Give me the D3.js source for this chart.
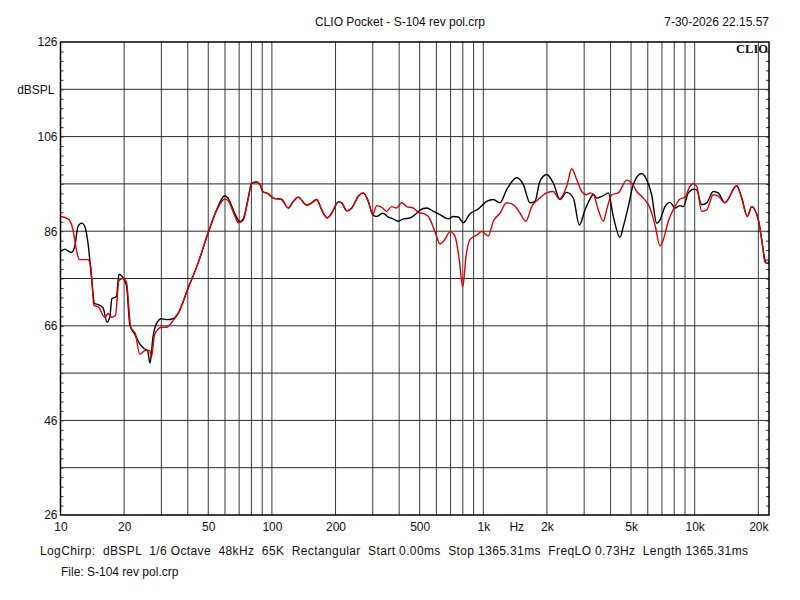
<!DOCTYPE html>
<html>
<head>
<meta charset="utf-8">
<script src="https://cdn.jsdelivr.net/npm/d3@7"></script>
<style>
  html, body { margin: 0; padding: 0; background: #fff; }
  svg text { font-family: "Liberation Sans", Arial, sans-serif; fill: #111; }
</style>
</head>
<body>
<svg id="chart" width="800" height="600"></svg>
<script>
// ---- data ----
const titleText = "CLIO Pocket - S-104 rev pol.crp";
const dateText = "7-30-2026 22.15.57";
const infoText = "LogChirp:  dBSPL  1/6 Octave  48kHz  65K  Rectangular  Start 0.00ms  Stop 1365.31ms  FreqLO 0.73Hz  Length 1365.31ms";
const fileText = "File: S-104 rev pol.crp";

const xTickValues = [10, 20, 50, 100, 200, 500, 1000, 2000, 5000, 10000, 20000];
const xTickLabels = ["10", "20", "50", "100", "200", "500", "1k", "2k", "5k", "10k", "20k"];
const xGridValues = [20,30,40,50,60,70,80,90,100,200,300,400,500,600,700,800,900,1000,2000,3000,4000,5000,6000,7000,8000,9000,10000,20000];
const yTickValues = [126, 106, 86, 66, 46, 26];
const yGridValues = [36, 46, 56, 66, 76, 86, 96, 106, 116];

const blackFreq = [10,10.46,11.25,11.67,12.1,12.6,13.0,13.5,14.0,14.5,15.1,15.9,16.6,17.1,17.5,18.4,18.9,19.5,20.5,21.3,22.4,23.7,25.0,25.8,26.5,27.4,28.4,30.0,31.7,34.1,36.0,40.1,44.7,49.9,55.6,59.8,62.0,66.7,70.6,73.2,77.3,80.2,84.7,87.8,90.5,96.2,101.5,111.2,119.6,126.3,133.3,146.1,154.2,162.8,172.0,182.9,191.8,206.2,213.8,225.9,238.6,256.4,270.6,285.8,299.9,313.2,334.2,355.4,375,396,418.4,449.8,475.3,500,539.9,580.5,624,683,721,761.5,804,865,947,1037,1115,1199,1290,1439,1546,1663,1756,1854,1995,2144,2306,2480,2667,2847,3027,3197,3315,3440,3698,3902,4121,4433,4596,4853,5125,5610,5925,6258,6607,6855,7235,7640,8068,8520,8830,9328,9924,10220,10790,11400,12240,12930,13900,15800,16690,17740,18600,20010,20750,21500,21910,22465];
const blackDb = [81.7,82.2,81.5,82.7,87.0,87.7,87.1,83.4,76.4,70.7,70.5,69.8,66.8,67.8,71.7,72.2,76.9,76.5,74.6,66.1,64.3,62.2,61.1,60.8,58.1,63.7,66.4,67.5,67.3,67.5,68.6,73.9,79.2,85.6,91.2,93.5,93.0,89.8,88.0,88.6,93.0,96.1,96.4,95.9,94.4,93.9,93.0,92.7,90.9,92.3,93.2,91.5,92.0,92.7,90.5,88.8,89.8,92.2,92.0,90.3,90.9,93.4,94.1,92.3,89.5,89.1,89.8,89.0,88.6,88.1,88.6,88.8,89.5,90.4,90.9,90.2,89.5,88.6,89.1,89.0,87.8,89.7,90.7,92.3,92.7,92.0,94.8,97.3,95.9,92.0,92.3,96.6,98.0,96.2,92.7,94.2,93.0,87.3,90.5,92.8,93.8,93.0,93.5,94.1,89.1,84.7,87.0,91.2,95.9,98.2,96.9,93.7,87.7,88.4,91.2,92.1,90.9,91.4,91.2,94.1,94.9,94.7,91.6,92.0,94.4,94.1,92.0,95.6,93.0,89.1,91.2,88.4,84.2,79.9,79.2,79.3];

const redFreq = [10,10.85,11.46,11.9,12.3,13.5,13.9,14.4,15.1,16.2,16.8,17.4,18.2,18.9,19.7,20.5,21.5,22.6,23.7,25.2,26.4,26.9,27.9,30.0,31.7,34.1,36.0,40.1,44.7,49.9,55.6,59.8,62.0,66.7,69.3,73.2,77.3,80.2,84.7,87.8,90.5,96.2,101.5,111.2,119.6,126.3,133.3,146.1,154.2,162.8,172.0,182.9,191.8,206.2,213.8,225.9,238.6,256.4,270.6,285.8,299.9,313.2,334.2,349,368.7,389.3,411,434.3,466.9,492.6,529.5,549.6,591,624,659,696,735,770,799,828,865,930,983,1056,1115,1199,1290,1387,1492,1592,1694,1820,1995,2144,2289,2480,2620,2767,2921,3083,3197,3315,3500,3698,3832,4049,4353,4769,5035,5318,5719,6146,6492,6855,7105,7500,8068,8520,8995,9500,9850,10220,10790,11400,12240,12930,13900,15800,16690,17740,18600,20010,20750,21500,21910,22465];
const redDb = [89.1,88.6,86.3,82.0,80.0,80.0,78.5,70.3,70.0,67.8,68.6,67.8,68.2,75.6,76.0,75.3,65.7,64.3,60.0,60.8,60.8,59.3,64.2,65.7,65.7,67.1,68.6,73.9,79.2,85.6,91.0,92.8,92.5,89.3,87.8,88.3,93.0,96.1,96.4,95.9,94.4,93.9,93.0,92.7,90.9,92.3,93.2,91.5,92.0,92.7,90.5,88.8,89.8,92.2,92.0,90.3,90.9,93.4,94.1,92.3,89.5,91.4,90.9,90.2,91.2,90.9,92.0,91.2,90.9,90.0,89.6,89.1,85.9,83.3,84.3,85.9,84.9,79.9,74.2,80.6,84.2,85.2,85.9,85.0,88.1,89.8,92.0,91.6,89.8,88.1,91.2,92.7,94.1,94.4,92.8,95.5,99.2,96.9,94.4,93.7,94.1,93.8,90.5,88.1,90.5,93.7,94.1,96.8,96.2,94.4,93.0,90.9,87.3,82.9,84.2,88.1,91.2,92.8,93.2,95.5,96.1,95.5,90.2,90.5,93.7,93.4,92.0,95.6,93.0,89.1,91.2,88.4,84.2,79.5,79.2,79.3];

// ---- layout ----
const svg = d3.select("#chart");
const L = 60.5, R = 769, T = 42, B = 515;
const x = d3.scaleLog().domain([10, 22465]).range([L, R]);
const y = d3.scaleLinear().domain([26, 126]).range([B, T]);

svg.append("rect").attr("width", 800).attr("height", 600).attr("fill", "#fff");

// grid
const grid = svg.append("g");
grid.selectAll("line.v").data(xGridValues).join("line")
  .attr("x1", d => x(d)).attr("x2", d => x(d))
  .attr("y1", T).attr("y2", B)
  .attr("stroke", "#3a3a3a").attr("stroke-width", 1);
grid.selectAll("line.h").data(yGridValues).join("line")
  .attr("y1", d => y(d)).attr("y2", d => y(d))
  .attr("x1", L).attr("x2", R)
  .attr("stroke", "#2a2a2a").attr("stroke-width", 1);

// minor ticks (every 2 dB) inside left and right edges
const minor = d3.range(28, 126, 2);
svg.append("g").attr("transform", `translate(${L},0)`)
  .call(d3.axisRight(y).tickValues(minor).tickSize(3).tickFormat(""))
  .call(g => g.select(".domain").remove())
  .call(g => g.selectAll("line").attr("stroke", "#333"));
svg.append("g").attr("transform", `translate(${R},0)`)
  .call(d3.axisLeft(y).tickValues(minor).tickSize(3).tickFormat(""))
  .call(g => g.select(".domain").remove())
  .call(g => g.selectAll("line").attr("stroke", "#333"));

// curves
const line = d3.line().x(d => x(d[0])).y(d => y(d[1])).curve(d3.curveMonotoneX);
svg.append("path").datum(blackFreq.map((f, i) => [f, blackDb[i]]))
  .attr("d", line).attr("fill", "none").attr("stroke", "#000").attr("stroke-width", 1.4);
svg.append("path").datum(redFreq.map((f, i) => [f, redDb[i]]))
  .attr("d", line).attr("fill", "none").attr("stroke", "#e00000").attr("stroke-width", 1.4);

// frame
svg.append("rect").attr("x", L).attr("y", T).attr("width", R - L).attr("height", B - T)
  .attr("fill", "none").attr("stroke", "#000").attr("stroke-width", 1.5);

// y axis labels
svg.append("g").attr("transform", `translate(${L - 3},0)`)
  .call(d3.axisLeft(y).tickValues(yTickValues).tickSize(0).tickPadding(0).tickFormat(d3.format("d")))
  .call(g => g.select(".domain").remove())
  .call(g => g.selectAll("text").attr("font-size", 12).attr("fill", "#111")
    .attr("font-family", "Liberation Sans, Arial, sans-serif"));
svg.append("text").attr("x", L - 6).attr("y", y(116)).attr("dy", "0.35em")
  .attr("text-anchor", "end").attr("font-size", 12).text("dBSPL");

// x axis labels
svg.append("g").attr("transform", `translate(0,${B + 7})`)
  .call(d3.axisBottom(x).tickValues(xTickValues).tickSize(0).tickPadding(0)
    .tickFormat((d, i) => xTickLabels[i]))
  .call(g => g.select(".domain").remove())
  .call(g => g.selectAll("text").attr("font-size", 12).attr("fill", "#111")
    .attr("font-family", "Liberation Sans, Arial, sans-serif"));
svg.append("text").attr("x", x(1440)).attr("y", B + 7).attr("dy", "0.71em")
  .attr("text-anchor", "middle").attr("font-size", 12).text("Hz");

// titles
svg.append("text").attr("x", 400).attr("y", 26).attr("text-anchor", "middle")
  .attr("font-size", 12).text(titleText);
svg.append("text").attr("x", R).attr("y", 26).attr("text-anchor", "end")
  .attr("font-size", 12).text(dateText);
svg.append("text").attr("x", R - 1).attr("y", 53).attr("text-anchor", "end")
  .attr("font-size", 12.5).attr("font-weight", "bold")
  .style("font-family", "'Liberation Serif', 'Times New Roman', serif").text("CLIO");

// footer
svg.append("text").attr("x", 40).attr("y", 555).attr("font-size", 12)
  .attr("xml:space", "preserve").style("white-space", "pre")
  .attr("textLength", 708).attr("lengthAdjust", "spacing").text(infoText);
svg.append("text").attr("x", 61).attr("y", 576).attr("font-size", 12).text(fileText);
</script>
</body>
</html>
